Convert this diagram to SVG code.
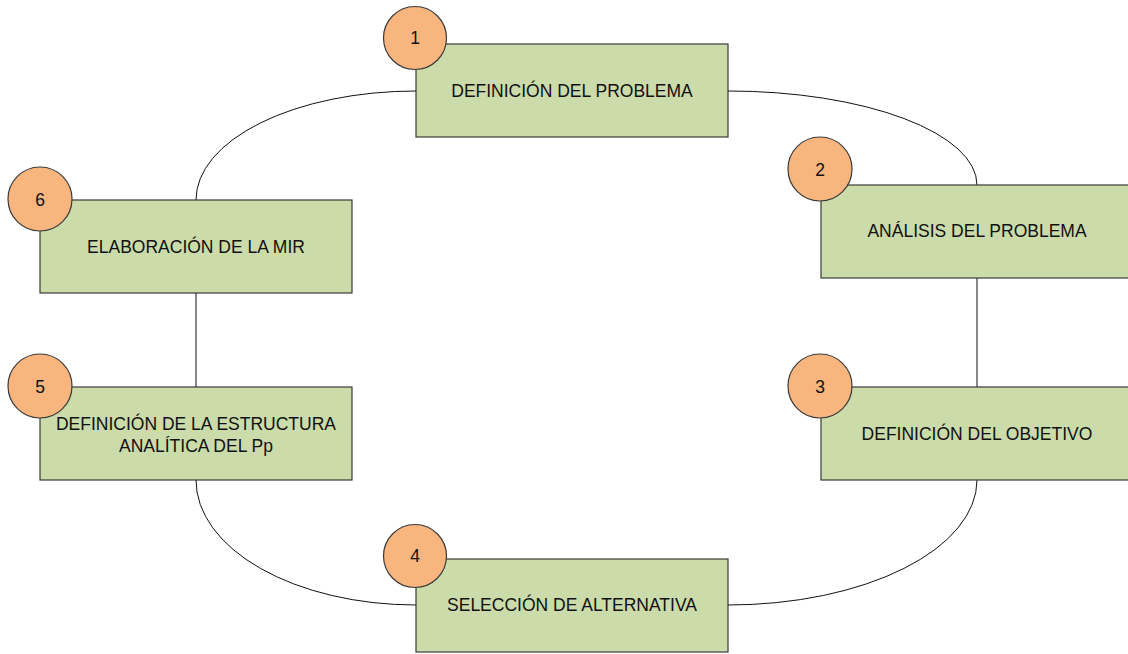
<svg xmlns="http://www.w3.org/2000/svg" width="1128" height="654" viewBox="0 0 1128 654">
<style>
.box{fill:#CBDBA9;stroke:#3a3a3a;stroke-width:1.2}
.num{fill:#F8B57E;stroke:#3a3a3a;stroke-width:1.2}
.lbl{font-family:"Liberation Sans",Arial,sans-serif;font-size:17.5px;fill:#111;text-anchor:middle}
.conn{fill:none;stroke:#111;stroke-width:1}
</style>
<rect width="1128" height="654" fill="#fff"/>
<g id="connectors">
<path class="conn" d="M416,91 A220,109 0 0 0 196,200"/>
<path class="conn" d="M728,91 A249,94 0 0 1 977,185"/>
<path class="conn" d="M977,278 L977,387"/>
<path class="conn" d="M977,480 A249,125 0 0 1 728,605"/>
<path class="conn" d="M416,605 A220,125 0 0 1 196,480"/>
<path class="conn" d="M196,387 L196,293"/>
</g>
<g id="n1">
<rect class="box" x="416" y="44" width="312" height="93"/>
<circle class="num" cx="415" cy="38" r="31.5"/>
<text class="lbl" x="415" y="44">1</text>
<text class="lbl" x="572" y="97">DEFINICIÓN DEL PROBLEMA</text>
</g>
<g id="n2">
<rect class="box" x="821" y="185" width="312" height="93"/>
<circle class="num" cx="820" cy="169" r="32"/>
<text class="lbl" x="820" y="176">2</text>
<text class="lbl" x="977" y="237">ANÁLISIS DEL PROBLEMA</text>
</g>
<g id="n3">
<rect class="box" x="821" y="387" width="312" height="93"/>
<circle class="num" cx="820" cy="386" r="32"/>
<text class="lbl" x="820" y="393">3</text>
<text class="lbl" x="977" y="440">DEFINICIÓN DEL OBJETIVO</text>
</g>
<g id="n4">
<rect class="box" x="416" y="559" width="312" height="93"/>
<circle class="num" cx="415" cy="556" r="31.5"/>
<text class="lbl" x="415" y="562">4</text>
<text class="lbl" x="572" y="611">SELECCIÓN DE ALTERNATIVA</text>
</g>
<g id="n5">
<rect class="box" x="40" y="387" width="312" height="93"/>
<circle class="num" cx="40" cy="386" r="32"/>
<text class="lbl" x="40" y="393">5</text>
<text class="lbl" x="196" y="430">DEFINICIÓN DE LA ESTRUCTURA</text>
<text class="lbl" x="196" y="452">ANALÍTICA DEL Pp</text>
</g>
<g id="n6">
<rect class="box" x="40" y="200" width="312" height="93"/>
<circle class="num" cx="40" cy="199" r="32"/>
<text class="lbl" x="40" y="206">6</text>
<text class="lbl" x="196" y="253">ELABORACIÓN DE LA MIR</text>
</g>
</svg>
